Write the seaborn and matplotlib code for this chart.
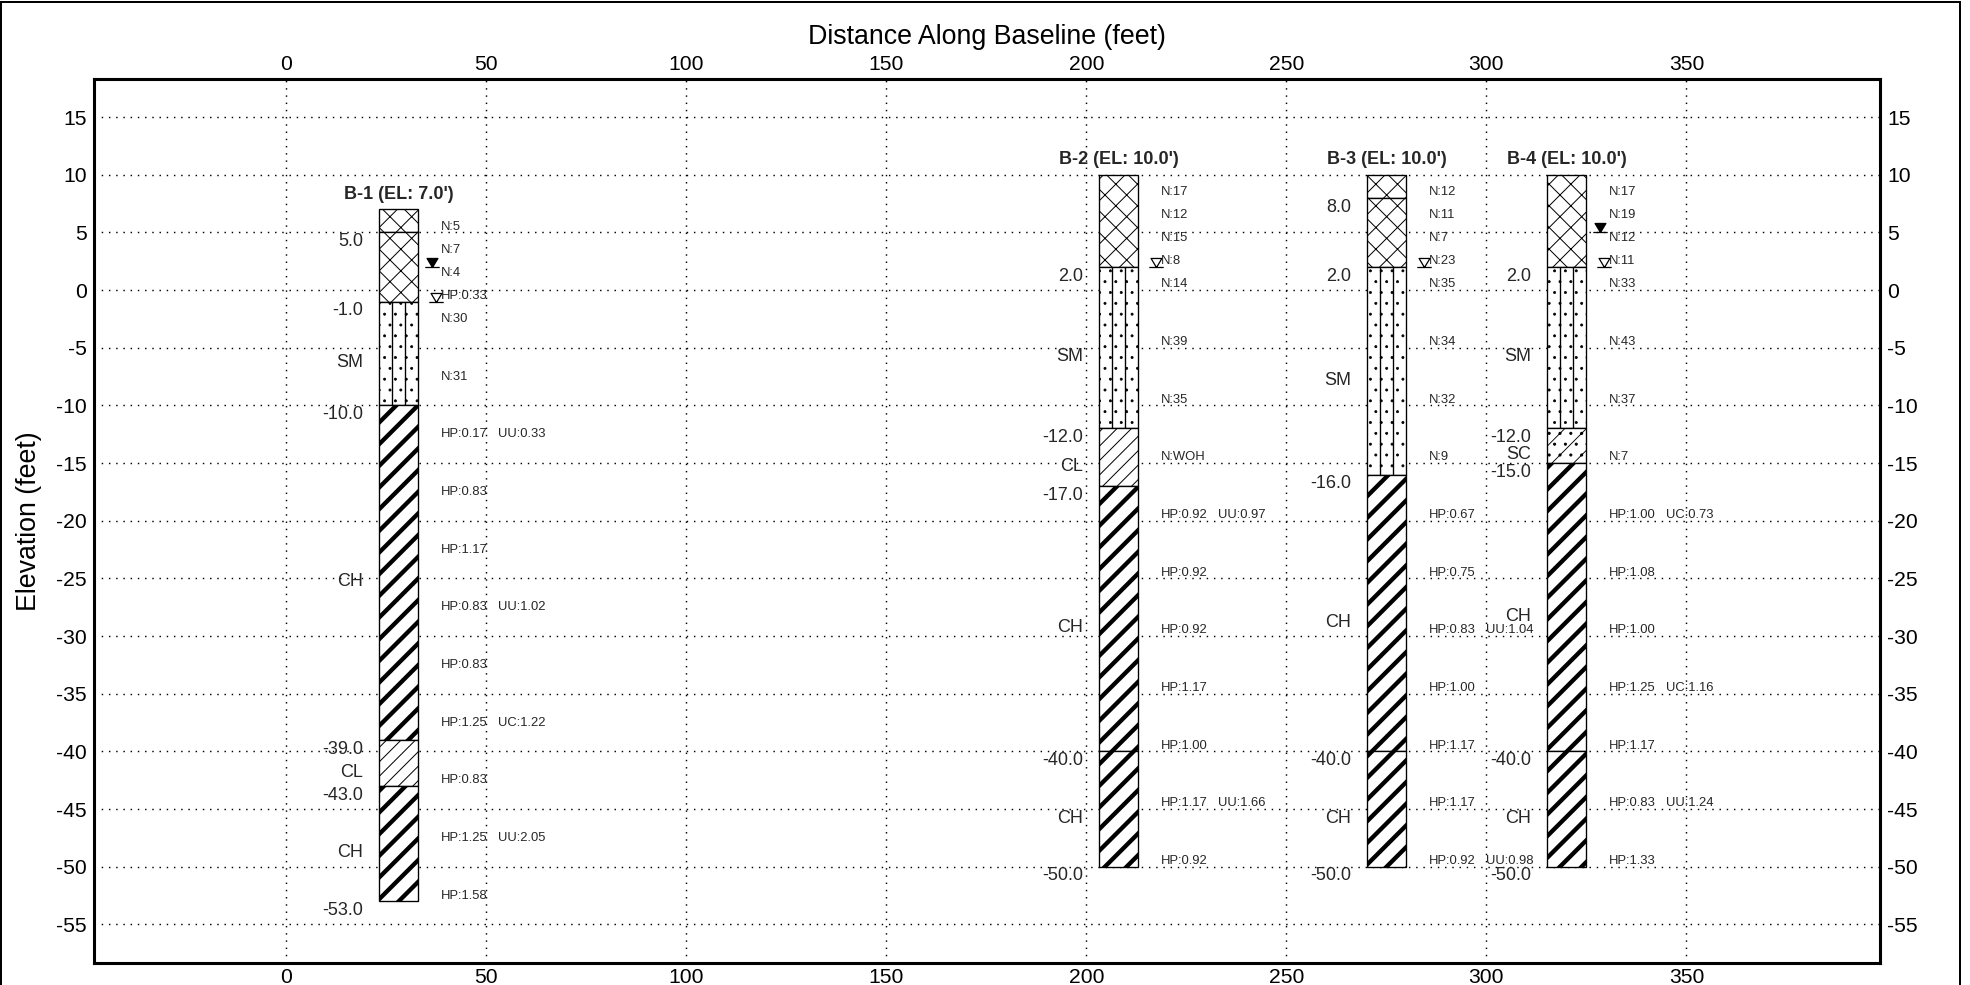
import numpy as np
import pandas as pd
import matplotlib
matplotlib.use("Agg")
import matplotlib.pyplot as plt
import seaborn as sns
from matplotlib.path import Path
from matplotlib.patches import Rectangle

# ---------------- data ----------------
borehole_names = ["B-1", "B-2", "B-3", "B-4"]
borehole_x = [28, 208, 275, 320]
borehole_el = [7.0, 10.0, 10.0, 10.0]

b1_tops = [7, 5, -1, -10, -39, -43]
b1_bots = [5, -1, -10, -39, -43, -53]
b1_soil = ["FILL", "FILL", "SM", "CH", "CL", "CH"]

b2_tops = [10, 2, -12, -17, -40]
b2_bots = [2, -12, -17, -40, -50]
b2_soil = ["FILL", "SM", "CL", "CH", "CH"]

b3_tops = [10, 8, 2, -16, -40]
b3_bots = [8, 2, -16, -40, -50]
b3_soil = ["FILL", "FILL", "SM", "CH", "CH"]

b4_tops = [10, 2, -12, -15, -40]
b4_bots = [2, -12, -15, -40, -50]
b4_soil = ["FILL", "SM", "SC", "CH", "CH"]

b1_test_el = [5.5, 3.5, 1.5, -0.5, -2.5, -7.5, -12.5, -17.5, -22.5, -27.5, -32.5, -37.5, -42.5, -47.5, -52.5]
b1_test_a = ["N:5", "N:7", "N:4", "HP:0.33", "N:30", "N:31", "HP:0.17", "HP:0.83", "HP:1.17",
             "HP:0.83", "HP:0.83", "HP:1.25", "HP:0.83", "HP:1.25", "HP:1.58"]
b1_test_b = ["", "", "", "", "", "", "UU:0.33", "", "", "UU:1.02", "", "UC:1.22", "", "UU:2.05", ""]

b2_test_el = [8.5, 6.5, 4.5, 2.5, 0.5, -4.5, -9.5, -14.5, -19.5, -24.5, -29.5, -34.5, -39.5, -44.5, -49.5]
b2_test_a = ["N:17", "N:12", "N:15", "N:8", "N:14", "N:39", "N:35", "N:WOH", "HP:0.92", "HP:0.92",
             "HP:0.92", "HP:1.17", "HP:1.00", "HP:1.17", "HP:0.92"]
b2_test_b = ["", "", "", "", "", "", "", "", "UU:0.97", "", "", "", "", "UU:1.66", ""]

b3_test_el = [8.5, 6.5, 4.5, 2.5, 0.5, -4.5, -9.5, -14.5, -19.5, -24.5, -29.5, -34.5, -39.5, -44.5, -49.5]
b3_test_a = ["N:12", "N:11", "N:7", "N:23", "N:35", "N:34", "N:32", "N:9", "HP:0.67", "HP:0.75",
             "HP:0.83", "HP:1.00", "HP:1.17", "HP:1.17", "HP:0.92"]
b3_test_b = ["", "", "", "", "", "", "", "", "", "", "UU:1.04", "", "", "", "UU:0.98"]

b4_test_el = [8.5, 6.5, 4.5, 2.5, 0.5, -4.5, -9.5, -14.5, -19.5, -24.5, -29.5, -34.5, -39.5, -44.5, -49.5]
b4_test_a = ["N:17", "N:19", "N:12", "N:11", "N:33", "N:43", "N:37", "N:7", "HP:1.00", "HP:1.08",
             "HP:1.00", "HP:1.25", "HP:1.17", "HP:0.83", "HP:1.33"]
b4_test_b = ["", "", "", "", "", "", "", "", "UC:0.73", "", "", "UC:1.16", "", "UU:1.24", ""]

# water levels: (borehole index, elevation)
wl_filled_bh = [0, 3]
wl_filled_el = [2.0, 5.0]
wl_open_bh = [0, 1, 2, 3]
wl_open_el = [-1.0, 2.0, 2.0, 2.0]

x_ticks = [0, 50, 100, 150, 200, 250, 300, 350]
y_ticks = [-55, -50, -45, -40, -35, -30, -25, -20, -15, -10, -5, 0, 5, 10, 15]

# ---------------- style ----------------
sns.set_theme(style="white")
plt.rcParams["font.family"] = ["Liberation Sans", "DejaVu Sans"]
plt.rcParams["hatch.color"] = "black"

DPI = 130
W, H = 1970, 985
fig = plt.figure(figsize=(W / DPI, H / DPI), dpi=DPI)
fig.patch.set_facecolor("white")
ax = fig.add_axes([94 / W, 1 - 963 / H, (1880 - 94) / W, (963 - 79) / H])
ax.set_facecolor("white")

COL_W = 9.7
soil_style = {
    "FILL": dict(hatch="xx", hlw=0.55),
    "SM": dict(hatch="..", hlw=0.4),
    "CL": dict(hatch="///", hlw=0.55),
    "SC": dict(hatch="//..", hlw=0.5),
    "CH": dict(hatch="//", hlw=2.4),
}
soil_label = {"FILL": "", "SM": "SM", "CL": "CL", "SC": "SC", "CH": "CH"}

layers = [
    (b1_tops, b1_bots, b1_soil),
    (b2_tops, b2_bots, b2_soil),
    (b3_tops, b3_bots, b3_soil),
    (b4_tops, b4_bots, b4_soil),
]
tests = [
    (b1_test_el, b1_test_a, b1_test_b),
    (b2_test_el, b2_test_a, b2_test_b),
    (b3_test_el, b3_test_a, b3_test_b),
    (b4_test_el, b4_test_a, b4_test_b),
]

for i, (tops, bots, soils) in enumerate(layers):
    cx = borehole_x[i]
    tops = np.array(tops, float)
    bots = np.array(bots, float)
    for t, b, s in zip(tops, bots, soils):
        st = soil_style[s]
        with plt.rc_context({"hatch.linewidth": st["hlw"]}):
            bars = ax.bar([cx], [t - b], bottom=[b], width=COL_W, color="white",
                          edgecolor="black", linewidth=0.75, hatch=st["hatch"], zorder=2)
        for p in bars.patches:
            if hasattr(p, "set_hatch_linewidth"):
                p.set_hatch_linewidth(st["hlw"])
        if s == "SM":
            ax.vlines([cx - COL_W / 6, cx + COL_W / 6], b, t, color="black", linewidth=0.75, zorder=3)
        # soil name
        if soil_label[s]:
            ax.text(cx - 8.75, (t + b) / 2 - 0.8, soil_label[s], ha="right", va="center",
                    fontsize=10, zorder=4)
    # boundary elevations (skip ground surface)
    for v in list(tops[1:]) + [bots[-1]]:
        ax.text(cx - 8.75, v - 0.8, f"{v:.1f}", ha="right", va="center", fontsize=10, zorder=4)
    # title
    ax.text(cx, tops[0] + 1.3, f"{borehole_names[i]} (EL: {borehole_el[i]:.1f}')", ha="center",
            va="center", fontsize=10, fontweight="bold", zorder=4)

for i, (els, ta, tb) in enumerate(tests):
    cx = borehole_x[i]
    for e, a, b in zip(els, ta, tb):
        ax.text(cx + 10.5, e, a, ha="left", va="center", fontsize=7.2, zorder=4)
        if b:
            ax.text(cx + 25, e, b, ha="left", va="center", fontsize=7.2, zorder=4)

# water level symbols
tri = Path([(-0.6, 1.0), (0.6, 1.0), (0.0, 0.0), (-0.6, 1.0), (-0.8, 0.0), (0.8, 0.0)],
           [Path.MOVETO, Path.LINETO, Path.LINETO, Path.CLOSEPOLY, Path.MOVETO, Path.LINETO])
wl_f = pd.DataFrame({"x": [borehole_x[k] + 8.5 for k in wl_filled_bh], "y": wl_filled_el})
wl_o = pd.DataFrame({"x": [borehole_x[k] + 9.5 for k in wl_open_bh], "y": wl_open_el})
sns.scatterplot(data=wl_f, x="x", y="y", marker=tri, s=10 ** 2, facecolor="black",
                edgecolor="black", linewidth=0.7, ax=ax, zorder=5, legend=False)
sns.scatterplot(data=wl_o, x="x", y="y", marker=tri, s=10 ** 2, facecolor="white",
                edgecolor="black", linewidth=0.7, ax=ax, zorder=5, legend=False)

# ---------------- axes ----------------
ax.set_xlim(-48.1, 398.4)
ax.set_ylim(-58.35, 18.3)
ax.set_xticks(x_ticks)
ax.set_yticks(y_ticks)
ax.set_xticklabels([str(v) for v in x_ticks])
ax.set_yticklabels([str(v) for v in y_ticks])
ax.tick_params(axis="both", which="both", length=0, labelsize=11.7, colors="black",
               top=True, bottom=True, left=True, right=True,
               labeltop=True, labelbottom=True, labelleft=True, labelright=True)
ax.tick_params(axis="x", pad=3)
ax.tick_params(axis="y", pad=4)
ax.grid(True, color="black", linestyle=(0, (1, 4)), linewidth=0.8)
ax.set_axisbelow(True)
for sp in ax.spines.values():
    sp.set_visible(True)
    sp.set_color("black")
    sp.set_linewidth(1.7)
ax.set_xlabel("Distance Along Baseline (feet)", fontsize=14.8, color="black", labelpad=6)
ax.xaxis.set_label_position("top")
ax.set_ylabel("Elevation (feet)", fontsize=14.8, color="black", labelpad=8)

# figure frame
fig.patches.append(Rectangle((1.0 / W, -0.05), 1958.5 / W, 1.05 - 1.5 / H, transform=fig.transFigure,
                             fill=False, edgecolor="black", linewidth=1.1, zorder=10))

fig.savefig("out.png", dpi=DPI, facecolor="white")
